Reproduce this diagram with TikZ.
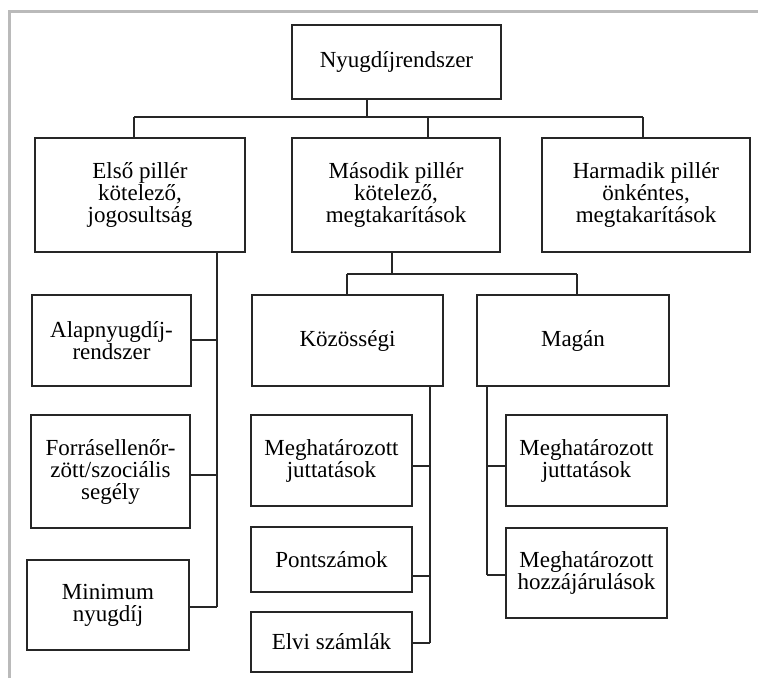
\documentclass[tikz,border=0pt]{standalone}
\usepackage{fontspec}
\setmainfont{Liberation Serif}
\begin{document}
\begin{tikzpicture}
[x=1pt,y=-1pt,
  boxdecorate/.style={shape=rectangle,draw=black!85,line width=1.3pt,inner sep=2pt,align=center,font=\fontsize{23}{22}\selectfont},%
  linedecorate/.style={-,draw=black!85,line width=1.3pt},%
  framedecorate/.style={draw=black!27,line width=3pt}]
\useasboundingbox (0,0) rectangle (758,678);
%% frame
\draw[framedecorate] (9.5,678) -- (9.5,11.5) -- (758,11.5);
%% boxes
\foreach \nodename/\x/\y/\w/\h/\txt in {
  top/396.5/62/209/74/{Nyugdíjrendszer},
  p1/140/195/210/114/{Első pillér\\kötelező,\\jogosultság},
  p2/396/195/208/114/{Második pillér\\kötelező,\\megtakarítások},
  p3/646/195/208/114/{Harmadik pillér\\önkéntes,\\megtakarítások},
  a1/111.5/340.5/159/91/{Alapnyugdíj-\\rendszer},
  a2/110.5/471.5/159/113/{Forrásellenőr-\\zött/szociális\\segély},
  a3/108/605/162/90/{Minimum\\nyugdíj},
  k/347.5/340.5/191/91/{Közösségi},
  m/573/340.5/192/91/{Magán},
  k1/331.5/460.5/161/91/{Meghatározott\\juttatások},
  k2/331.5/559.5/161/65/{Pontszámok},
  k3/331.5/642/161/60/{Elvi számlák},
  m1/586.5/460.5/161/91/{Meghatározott\\juttatások},
  m2/586.5/573/161/90/{Meghatározott\\hozzájárulások}} {
  \node (\nodename) at (\x,\y) [boxdecorate,minimum width=\w pt,minimum height=\h pt] {\txt};
}
%% junction points
\foreach \nodename/\x/\y in {tb/367/117, d1/134/117, d2/428/117, d3/643/117,
  sb/392/274, e1/347/274, e2/577/274,
  lb1/217/340, lb2/217/475, lb3/217/607,
  kb1/430/466, kb2/430/576, kb3/430/643,
  mb1/487/466, mb2/487/575} {
  \coordinate (\nodename) at (\x,\y);
}
%% first level
\draw[linedecorate] (top.south -| tb) -- (tb);
\draw[linedecorate] (d1) -- (d3);
\foreach \startnode/\endnode in {d1/p1, d2/p2, d3/p3} {
  \draw[linedecorate] (\startnode) -- (\startnode |- \endnode.north);
}
%% second pillar split
\draw[linedecorate] (p2.south -| sb) -- (sb);
\draw[linedecorate] (e1) -- (e2);
\foreach \startnode/\endnode in {e1/k, e2/m} {
  \draw[linedecorate] (\startnode) -- (\startnode |- \endnode.north);
}
%% spines
\draw[linedecorate] (p1.south -| lb1) -- (lb3);
\draw[linedecorate] (k.south -| kb1) -- (kb3);
\draw[linedecorate] (m.south -| mb1) -- (mb2);
%% branches
\foreach \startnode/\endnode in {a1/lb1, a2/lb2, a3/lb3, k1/kb1, k2/kb2, k3/kb3} {
  \draw[linedecorate] (\startnode.east |- \endnode) -- (\endnode);
}
\foreach \startnode/\endnode in {m1/mb1, m2/mb2} {
  \draw[linedecorate] (\startnode.west |- \endnode) -- (\endnode);
}
\end{tikzpicture}
\end{document}
